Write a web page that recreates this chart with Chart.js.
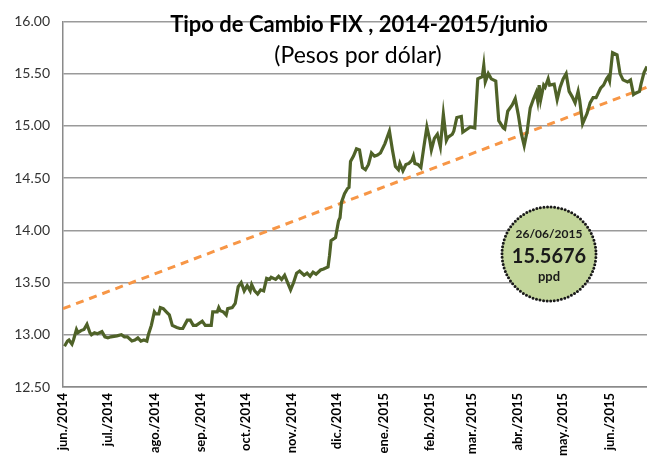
<!DOCTYPE html>
<html><head><meta charset="utf-8">
<script src="https://cdn.jsdelivr.net/npm/chart.js@4/dist/chart.umd.min.js"></script>
<style>html,body{margin:0;padding:0;background:#fff}#wrap{width:647px;height:462px;position:relative}</style>
</head><body><div id="wrap"><canvas id="c" width="647" height="462"></canvas></div>
<script>
// x values: days since 2014-06-01
const dayOffsets = [1,3,4,6,7,9,10,12,14,16,18,19,21,23,26,28,30,32,36,39,41,43,46,48,50,52,54,56,57,59,61,62,64,65,67,69,71,73,76,78,80,83,85,87,89,93,95,97,99,100,103,104,105,107,109,110,113,115,117,119,121,123,125,126,128,130,132,134,136,138,139,142,144,146,148,150,152,154,156,158,161,163,165,167,169,172,174,177,178,179,182,184,185,186,188,190,191,192,194,196,198,200,202,204,206,208,210,212,215,218,220,222,224,225,227,229,231,233,234,235,237,239,241,243,245,246,248,250,252,254,256,257,260,261,263,266,267,270,272,275,277,280,281,282,284,286,289,291,294,295,297,300,302,304,306,308,310,312,314,316,317,318,319,321,322,324,325,328,330,332,334,336,338,340,342,344,345,347,350,352,354,356,359,361,363,364,365,367,370,372,374,377,379,381,382,385,386,388,390];
const fixValues = [12.89,12.94,12.95,12.91,12.95,13.05,13.02,13.04,13.05,13.10,13.02,13.00,13.02,13.01,13.03,12.98,12.97,12.98,12.99,13.00,12.98,12.98,12.94,12.95,12.97,12.94,12.95,12.94,13.00,13.09,13.22,13.20,13.20,13.26,13.25,13.22,13.19,13.09,13.07,13.06,13.06,13.14,13.14,13.09,13.09,13.13,13.09,13.09,13.09,13.22,13.22,13.26,13.23,13.22,13.19,13.25,13.26,13.30,13.46,13.50,13.42,13.47,13.42,13.48,13.42,13.39,13.43,13.42,13.54,13.53,13.55,13.53,13.56,13.53,13.57,13.50,13.43,13.50,13.59,13.61,13.57,13.59,13.56,13.60,13.58,13.62,13.63,13.65,13.76,13.90,13.93,14.09,14.12,14.27,14.35,14.40,14.41,14.66,14.71,14.78,14.77,14.60,14.58,14.63,14.74,14.71,14.72,14.74,14.83,14.95,14.77,14.61,14.58,14.64,14.57,14.63,14.64,14.67,14.71,14.64,14.63,14.60,14.80,14.99,14.86,14.77,14.88,14.92,14.80,15.11,14.86,14.89,14.92,14.95,15.08,15.09,14.94,14.97,14.99,14.98,15.45,15.47,15.58,15.42,15.50,15.45,15.43,15.05,14.98,14.97,15.14,15.20,15.26,15.11,14.93,14.81,14.95,15.17,15.25,15.32,15.24,15.39,15.25,15.39,15.37,15.45,15.39,15.40,15.25,15.37,15.45,15.50,15.33,15.28,15.22,15.33,15.25,15.02,15.12,15.22,15.27,15.27,15.36,15.39,15.45,15.47,15.43,15.70,15.68,15.50,15.44,15.42,15.44,15.30,15.31,15.33,15.40,15.51,15.5676];
// linear trend line end points
const trendDays = [0, 390];
const trendValues = [13.25, 15.37];
// month ticks (days since 2014-06-01)
const monthTickDays = [0,30,61,92,122,153,183,214,245,273,304,334,365];
const monthTickLabels = ['jun./2014','jul./2014','ago./2014','sep./2014','oct./2014','nov./2014','dic./2014','ene./2015','feb./2015','mar./2015','abr./2015','may./2015','jun./2015'];
const yTickMin = 12.5, yTickMax = 16, yTickStep = 0.5;
const titleText = 'Tipo de Cambio FIX , 2014-2015/junio';
const subtitleText = '(Pesos por dólar)';
const badgeDate = '26/06/2015';
const badgeValue = '15.5676';
const badgeUnit = 'ppd';

const FONT = 'Lato, "Open Sans", sans-serif';

const overlay = {
  id: 'overlay',
  afterDraw(chart) {
    const ctx = chart.ctx;
    ctx.save();
    ctx.fillStyle = '#000';
    ctx.textAlign = 'center';
    ctx.textBaseline = 'alphabetic';
    ctx.font = 'bold 22px ' + FONT;
    ctx.fillText(titleText, 359, 32);
    ctx.font = '23px ' + FONT;
    ctx.fillText(subtitleText, 358, 63);
    // badge
    const cx = 549, cy = 254, r = 47;
    ctx.beginPath();
    ctx.arc(cx, cy, r, 0, Math.PI * 2);
    ctx.fillStyle = '#C3D69B';
    ctx.fill();
    ctx.setLineDash([0, 3.6]);
    ctx.lineCap = 'round';
    ctx.lineWidth = 3;
    ctx.strokeStyle = '#1a1a1a';
    ctx.stroke();
    ctx.setLineDash([]);
    ctx.fillStyle = '#1a1a1a';
    ctx.font = 'bold 12px ' + FONT;
    ctx.fillText(badgeDate, cx, 238);
    ctx.font = 'bold 20px ' + FONT;
    ctx.fillText(badgeValue, cx, 263);
    ctx.font = 'bold 13px ' + FONT;
    ctx.fillText(badgeUnit, cx, 281);
    ctx.restore();
  }
};

new Chart(document.getElementById('c'), {
  type: 'line',
  data: {
    datasets: [
      {
        label: 'FIX',
        data: dayOffsets.map((d, i) => ({x: d, y: fixValues[i]})),
        borderColor: '#4F6228',
        borderWidth: 3.2,
        pointRadius: 0,
        tension: 0,
        fill: false,
        order: 1
      },
      {
        label: 'Tendencia',
        data: trendDays.map((d, i) => ({x: d, y: trendValues[i]})),
        borderColor: '#F79646',
        borderWidth: 3,
        borderDash: [8, 6],
        pointRadius: 0,
        fill: false,
        order: 2
      }
    ]
  },
  options: {
    responsive: false,
    animation: false,
    devicePixelRatio: 1,
    layout: {padding: {top: 11, right: 0, left: 0, bottom: 0}},
    plugins: {legend: {display: false}, tooltip: {enabled: false}, title: {display: false}},
    scales: {
      x: {
        type: 'linear',
        min: 0,
        max: 390,
        afterBuildTicks: (s) => { s.ticks = monthTickDays.map(v => ({value: v})); },
        afterFit: (s) => { s.height = 75; },
        ticks: {
          autoSkip: false,
          maxRotation: 90,
          minRotation: 90,
          padding: 6,
          color: '#000',
          font: {family: FONT, size: 13, weight: 'bold'},
          callback: (v) => { const i = monthTickDays.indexOf(v); return i >= 0 ? monthTickLabels[i] : ''; }
        },
        grid: {display: true, drawOnChartArea: false, drawTicks: false},
        border: {display: true, color: '#8a8a8a', width: 1.5}
      },
      y: {
        min: yTickMin,
        max: yTickMax,
        afterFit: (s) => { s.width = 63; },
        ticks: {
          stepSize: yTickStep,
          padding: 13,
          color: '#333',
          font: {family: FONT, size: 14},
          callback: (v) => Number(v).toFixed(2)
        },
        grid: {color: '#9a9a9a', lineWidth: 1.5, drawTicks: false},
        border: {display: true, color: '#8a8a8a', width: 1.5}
      }
    }
  },
  plugins: [overlay]
});
</script>
</body></html>
